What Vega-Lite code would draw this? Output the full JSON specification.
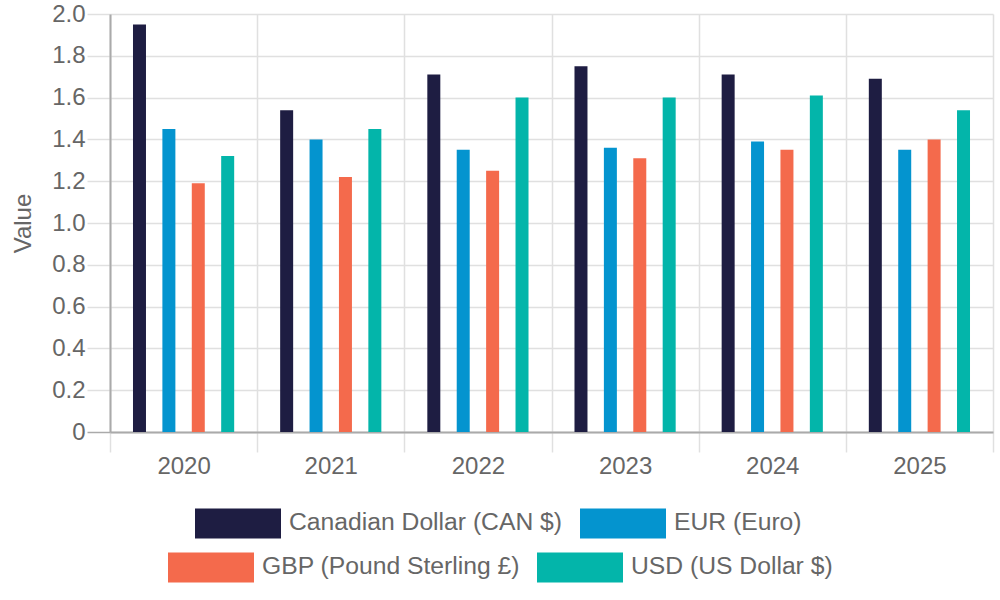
{
  "$schema": "https://vega.github.io/schema/vega-lite/v6.json",
  "width": 883,
  "height": 418,
  "autosize": {"type": "none"},
  "padding": {"left": 110, "top": 14, "right": 7, "bottom": 168},
  "background": "white",
  "config": {
    "font": "Liberation Sans",
    "view": {"stroke": null},
    "legend": {"padding": 0}
  },
  "data": {
    "values": [
      {"year": "2020", "currency": "Canadian Dollar (CAN $)", "value": 1.95},
      {"year": "2020", "currency": "EUR (Euro)", "value": 1.45},
      {"year": "2020", "currency": "GBP (Pound Sterling £)", "value": 1.19},
      {"year": "2020", "currency": "USD (US Dollar $)", "value": 1.32},
      {"year": "2021", "currency": "Canadian Dollar (CAN $)", "value": 1.54},
      {"year": "2021", "currency": "EUR (Euro)", "value": 1.40},
      {"year": "2021", "currency": "GBP (Pound Sterling £)", "value": 1.22},
      {"year": "2021", "currency": "USD (US Dollar $)", "value": 1.45},
      {"year": "2022", "currency": "Canadian Dollar (CAN $)", "value": 1.71},
      {"year": "2022", "currency": "EUR (Euro)", "value": 1.35},
      {"year": "2022", "currency": "GBP (Pound Sterling £)", "value": 1.25},
      {"year": "2022", "currency": "USD (US Dollar $)", "value": 1.60},
      {"year": "2023", "currency": "Canadian Dollar (CAN $)", "value": 1.75},
      {"year": "2023", "currency": "EUR (Euro)", "value": 1.36},
      {"year": "2023", "currency": "GBP (Pound Sterling £)", "value": 1.31},
      {"year": "2023", "currency": "USD (US Dollar $)", "value": 1.60},
      {"year": "2024", "currency": "Canadian Dollar (CAN $)", "value": 1.71},
      {"year": "2024", "currency": "EUR (Euro)", "value": 1.39},
      {"year": "2024", "currency": "GBP (Pound Sterling £)", "value": 1.35},
      {"year": "2024", "currency": "USD (US Dollar $)", "value": 1.61},
      {"year": "2025", "currency": "Canadian Dollar (CAN $)", "value": 1.69},
      {"year": "2025", "currency": "EUR (Euro)", "value": 1.35},
      {"year": "2025", "currency": "GBP (Pound Sterling £)", "value": 1.40},
      {"year": "2025", "currency": "USD (US Dollar $)", "value": 1.54}
    ]
  },
  "encoding": {
    "x": {
      "field": "year", "type": "ordinal",
      "scale": {"paddingInner": 0, "paddingOuter": 0},
      "axis": {
        "title": null, "labelAngle": 0, "labelFontSize": 24, "labelColor": "#666666",
        "labelPadding": 2, "tickBand": "extent", "tickSize": 20, "tickColor": "#e0e0e0",
        "grid": true, "gridColor": "#e0e0e0", "gridWidth": 1.5,
        "domainColor": "#aaaaaa", "domainWidth": 2, "tickWidth": 1.5
      }
    },
    "xOffset": {
      "field": "currency", "type": "nominal",
      "scale": {
        "domain": ["Canadian Dollar (CAN $)", "EUR (Euro)", "GBP (Pound Sterling £)", "USD (US Dollar $)"],
        "paddingInner": 0.558, "paddingOuter": 0.782
      }
    },
    "y": {
      "field": "value", "type": "quantitative",
      "scale": {"domain": [0, 2]},
      "axis": {
        "title": "Value", "titleFontSize": 24, "titleColor": "#666666", "titleFontWeight": "normal",
        "titlePadding": 16,
        "labelFontSize": 24, "labelColor": "#666666", "labelPadding": 2,
        "tickCount": 10,
        "labelExpr": "datum.value === 0 ? '0' : format(datum.value, '.1f')",
        "tickSize": 23, "tickWidth": 1.5,
        "tickColor": {"condition": {"test": "datum.value === 0", "value": "#aaaaaa"}, "value": "#e0e0e0"},
        "grid": true, "gridColor": "#e0e0e0", "gridWidth": 1.5,
        "domainColor": "#aaaaaa", "domainWidth": 2
      }
    }
  },
  "layer": [
    {
      "transform": [{"filter": {"field": "currency", "oneOf": ["Canadian Dollar (CAN $)", "EUR (Euro)"]}}],
      "mark": {"type": "bar"},
      "encoding": {
        "color": {
          "field": "currency", "type": "nominal",
          "scale": {"domain": ["Canadian Dollar (CAN $)", "EUR (Euro)"], "range": ["#1e1d42", "#0494cf"]},
          "legend": {
            "title": null, "orient": "none", "direction": "horizontal",
            "legendX": 85, "legendY": 466,
            "symbolType": "M-1,-0.35H1V0.35H-1Z", "symbolSize": 7396, "symbolStrokeWidth": 0,
            "labelFontSize": 24.7, "labelColor": "#666666", "labelOffset": 8, "columnPadding": 17,
            "labelLimit": 400
          }
        }
      }
    },
    {
      "transform": [{"filter": {"field": "currency", "oneOf": ["GBP (Pound Sterling £)", "USD (US Dollar $)"]}}],
      "mark": {"type": "bar"},
      "encoding": {
        "color": {
          "field": "currency", "type": "nominal",
          "scale": {"domain": ["GBP (Pound Sterling £)", "USD (US Dollar $)"], "range": ["#f46a4c", "#03b5aa"]},
          "legend": {
            "title": null, "orient": "none", "direction": "horizontal",
            "legendX": 58, "legendY": 510,
            "symbolType": "M-1,-0.35H1V0.35H-1Z", "symbolSize": 7396, "symbolStrokeWidth": 0,
            "labelFontSize": 24.7, "labelColor": "#666666", "labelOffset": 8, "columnPadding": 17,
            "labelLimit": 400
          }
        }
      }
    }
  ],
  "resolve": {"scale": {"color": "independent"}, "legend": {"color": "independent"}}
}
